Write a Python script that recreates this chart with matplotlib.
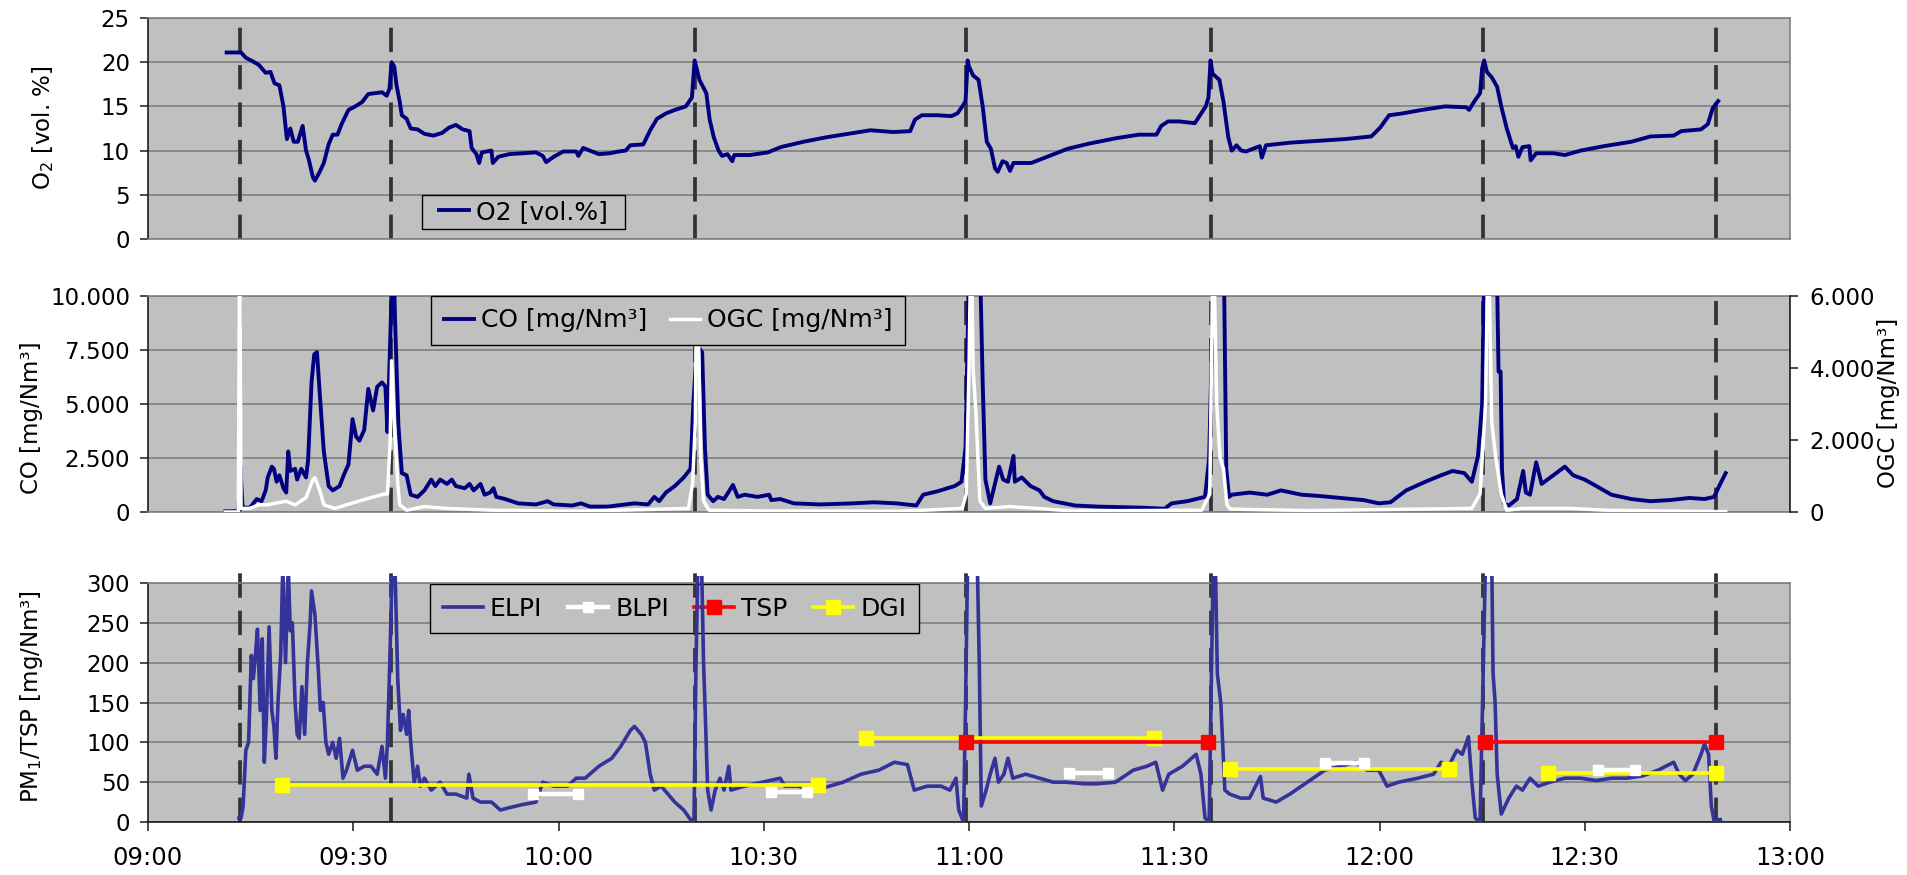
import matplotlib
matplotlib.use('Agg')
import matplotlib.pyplot as plt
from matplotlib.path import Path
from matplotlib.patches import Rectangle
from matplotlib.ticker import FuncFormatter
from matplotlib.lines import Line2D

# ---------------- data (time in minutes after 09:00) ----------------
x_tick_minutes = [0, 30, 60, 90, 120, 150, 180, 210, 240]
x_tick_labels = ['09:00', '09:30', '10:00', '10:30', '11:00', '11:30', '12:00', '12:30', '13:00']
batch_change_minutes = [13.4, 35.5, 80.0, 119.6, 155.4, 195.2, 229.2]

o2_ticks = [0, 5, 10, 15, 20, 25]
co_ticks = [0, 2500, 5000, 7500, 10000]
ogc_ticks = [0, 2000, 4000, 6000]
pm_ticks = [0, 50, 100, 150, 200, 250, 300]

o2_data = [
    (11.5, 21.1), (13.6, 21.1), (14.3, 20.5), (15.3, 20.1), (16.2, 19.7), (17.2, 18.8), (17.9, 18.9),
    (18.5, 17.6), (19.2, 17.4), (19.8, 15.0), (20.3, 11.3), (20.8, 12.5), (21.3, 11.0), (21.9, 11.0),
    (22.6, 12.8), (23.1, 10.0), (23.5, 9.0), (24.1, 7.0), (24.4, 6.6), (25.1, 7.6), (25.7, 8.6),
    (26.4, 10.7), (27.0, 11.8), (27.7, 11.8), (28.3, 13.0), (29.3, 14.6), (30.3, 15.0), (31.3, 15.5),
    (32.2, 16.4), (33.2, 16.5), (34.2, 16.6), (34.9, 16.2), (35.3, 17.0), (35.6, 20.0), (36.0, 19.5),
    (36.3, 17.5), (36.8, 15.5), (37.1, 14.0), (37.8, 13.6), (38.4, 12.5), (39.4, 12.4), (40.4, 11.9),
    (41.7, 11.7), (43.0, 12.0), (44.0, 12.6), (45.0, 12.9), (46.0, 12.4), (47.0, 12.2), (47.3, 10.3),
    (48.0, 9.6), (48.4, 8.6), (48.8, 9.8), (50.2, 10.0), (50.4, 8.6), (51.2, 9.3), (52.8, 9.6),
    (54.8, 9.7), (56.7, 9.8), (57.7, 9.4), (58.2, 8.7), (59.3, 9.3), (60.7, 9.9), (62.6, 9.9),
    (62.9, 9.4), (63.6, 10.3), (64.6, 10.0), (65.9, 9.6), (67.5, 9.7), (68.8, 9.9), (69.8, 10.0),
    (70.5, 10.6), (72.4, 10.7), (73.4, 12.3), (74.4, 13.6), (75.7, 14.2), (77.0, 14.6), (78.6, 15.0),
    (79.5, 16.0), (79.9, 20.2), (80.6, 18.0), (81.6, 16.5), (82.1, 13.5), (82.7, 11.5), (83.4, 10.0),
    (83.9, 9.4), (84.7, 9.6), (85.4, 8.8), (85.7, 9.5), (88.0, 9.5), (90.6, 9.8), (92.5, 10.4),
    (95.8, 11.0), (99.1, 11.5), (102.3, 11.9), (105.6, 12.3), (108.9, 12.1), (111.4, 12.2),
    (112.1, 13.5), (113.1, 14.0), (115.4, 14.0), (117.4, 13.9), (118.3, 14.2), (119.2, 15.2),
    (119.5, 15.6), (119.8, 20.2), (120.0, 19.5), (120.6, 18.5), (121.4, 18.0), (122.0, 15.0),
    (122.6, 11.0), (123.2, 10.2), (123.8, 8.0), (124.2, 7.6), (124.9, 8.8), (125.5, 8.6), (126.0, 7.7),
    (126.5, 8.6), (129.1, 8.6), (131.4, 9.3), (134.4, 10.2), (137.6, 10.8), (141.5, 11.4),
    (144.8, 11.8), (147.4, 11.8), (148.1, 12.8), (149.1, 13.3), (150.7, 13.3), (153.0, 13.1),
    (153.6, 13.8), (154.6, 15.0), (155.0, 16.0), (155.3, 20.2), (155.6, 18.7), (156.6, 18.0),
    (157.2, 15.5), (157.9, 11.5), (158.4, 10.0), (159.1, 10.6), (159.8, 10.0), (160.5, 9.9),
    (162.5, 10.5), (162.8, 9.2), (163.4, 10.6), (167.0, 10.9), (170.9, 11.1), (174.9, 11.3),
    (178.8, 11.6), (180.1, 12.6), (181.4, 14.0), (183.3, 14.2), (186.2, 14.6), (189.6, 15.0),
    (192.7, 14.9), (193.1, 14.6), (193.8, 15.5), (194.7, 16.5), (195.0, 19.3), (195.3, 20.2),
    (195.7, 18.9), (196.4, 18.3), (197.2, 17.2), (197.8, 15.0), (198.6, 12.5), (199.5, 10.3),
    (199.9, 10.5), (200.3, 9.3), (200.9, 10.4), (201.9, 10.5), (202.1, 8.9), (202.9, 9.7),
    (205.4, 9.7), (207.1, 9.5), (209.4, 10.0), (212.8, 10.5), (216.8, 11.0), (219.6, 11.6),
    (223.0, 11.7), (224.1, 12.2), (227.0, 12.4), (228.0, 13.0), (228.7, 14.8), (229.5, 15.6),
]

co_data = [
    (11.3, 30), (13.2, 40), (13.5, 2100), (13.8, 300), (14.1, 200), (14.9, 200), (15.9, 600),
    (16.6, 500), (17.2, 1000), (17.5, 1600), (18.1, 2100), (18.4, 2000), (18.8, 1400), (19.2, 1700),
    (19.8, 1100), (20.2, 900), (20.5, 2800), (20.8, 1900), (21.5, 2000), (21.8, 1500), (22.4, 2000),
    (23.1, 1600), (23.4, 2400), (23.9, 6000), (24.3, 7300), (24.7, 7400), (25.1, 5500), (25.7, 2800),
    (26.4, 1200), (27.0, 1000), (28.0, 1200), (28.6, 1700), (29.3, 2200), (29.9, 4300), (30.4, 3500),
    (30.9, 3300), (31.6, 3800), (32.2, 5700), (32.9, 4700), (33.5, 5800), (34.2, 6000), (34.7, 5800),
    (35.0, 3700), (35.5, 9000), (35.8, 13000), (36.1, 9000), (36.6, 4000), (37.1, 1800), (37.8, 1700),
    (38.4, 800), (39.4, 700), (40.4, 1000), (41.4, 1500), (42.0, 1200), (42.7, 1500), (43.7, 1300),
    (44.4, 1500), (45.0, 1200), (46.3, 1100), (47.0, 1300), (47.6, 1000), (48.6, 1300), (49.2, 800),
    (50.0, 900), (50.5, 1100), (50.9, 700), (52.2, 600), (54.1, 400), (56.7, 350), (58.4, 500),
    (59.3, 350), (62.0, 300), (63.3, 400), (64.6, 250), (67.2, 250), (69.8, 350), (71.1, 400),
    (73.1, 350), (74.0, 700), (74.7, 500), (75.7, 900), (77.0, 1200), (78.3, 1600), (79.3, 2000),
    (79.7, 5000), (80.1, 7000), (80.5, 7600), (81.0, 7400), (81.4, 3000), (81.8, 800), (82.6, 500),
    (83.3, 700), (84.2, 600), (85.5, 1250), (86.2, 700), (87.2, 800), (89.1, 700), (90.8, 800),
    (91.1, 550), (92.4, 600), (94.4, 400), (98.3, 350), (102.9, 400), (106.1, 450), (109.4, 400),
    (112.3, 300), (113.3, 800), (115.3, 950), (117.9, 1200), (118.9, 1400), (119.5, 3000),
    (119.8, 8000), (120.1, 13000), (121.5, 13000), (122.0, 6000), (122.4, 1500), (123.1, 400),
    (124.4, 2100), (125.0, 1500), (125.7, 1400), (126.5, 2600), (126.7, 1400), (127.7, 1600),
    (129.0, 1200), (130.3, 1000), (131.0, 700), (132.3, 500), (135.5, 300), (138.8, 250),
    (145.3, 200), (148.6, 150), (149.6, 400), (151.9, 500), (154.5, 700), (155.1, 2500),
    (155.6, 9000), (156.0, 13000), (157.2, 13000), (157.6, 2000), (158.0, 700), (158.4, 800),
    (161.0, 900), (163.6, 800), (165.6, 1000), (168.6, 800), (170.9, 750), (174.3, 650),
    (177.7, 550), (179.9, 400), (181.6, 450), (183.9, 1000), (186.7, 1400), (189.0, 1700),
    (190.7, 1900), (192.4, 1800), (193.5, 1400), (194.4, 2600), (195.0, 5000), (195.4, 13000),
    (197.0, 13000), (197.2, 10500), (197.4, 6500), (197.7, 6500), (197.9, 2000), (198.2, 400),
    (198.9, 300), (200.1, 600), (201.0, 1900), (201.4, 900), (202.0, 800), (202.9, 2300),
    (203.7, 1300), (205.4, 1700), (207.1, 2100), (208.3, 1700), (210.0, 1500), (211.7, 1200),
    (213.9, 800), (216.8, 600), (219.6, 500), (222.4, 550), (225.3, 650), (227.5, 600),
    (228.9, 700), (229.8, 1300), (230.6, 1800),
]

ogc_data = [
    (11.3, 0), (13.2, 0), (13.4, 8000), (13.6, 100), (14.9, 100), (16.2, 200), (17.5, 200),
    (18.8, 250), (20.2, 300), (21.5, 200), (23.1, 400), (24.1, 900), (24.4, 950), (25.1, 600),
    (25.7, 200), (27.3, 100), (29.9, 250), (32.6, 400), (34.5, 500), (35.0, 500), (35.4, 2000),
    (35.6, 4200), (36.0, 2500), (36.5, 800), (36.8, 200), (37.8, 50), (40.4, 150), (43.7, 100),
    (50.2, 50), (63.0, 20), (79.0, 100), (79.6, 800), (80.0, 2500), (80.2, 7000), (80.5, 4500),
    (80.8, 1500), (81.2, 300), (82.0, 50), (90.0, 30), (110.0, 20), (119.0, 100), (119.6, 500),
    (120.0, 4000), (120.3, 8000), (120.6, 4000), (121.0, 2800), (121.3, 1500), (121.6, 300),
    (122.4, 100), (126.0, 150), (130.0, 100), (135.0, 30), (154.0, 50), (155.2, 500), (155.7, 8000),
    (156.2, 3000), (156.7, 1500), (157.2, 1200), (157.7, 200), (158.2, 80), (170.0, 40),
    (193.5, 100), (194.7, 500), (195.5, 3000), (195.9, 8000), (196.4, 2500), (197.0, 1500),
    (197.8, 500), (198.6, 50), (200.9, 100), (208.0, 100), (213.0, 50), (225.0, 20), (230.6, 10),
]

elpi_data = [
    (13.3, 5), (13.6, 5), (13.9, 20), (14.3, 90), (14.7, 100), (15.1, 209), (15.4, 180), (15.7, 210),
    (16.0, 242), (16.4, 140), (16.7, 230), (17.0, 75), (17.3, 130), (17.7, 245), (18.1, 140),
    (18.4, 120), (18.7, 80), (19.0, 150), (19.4, 210), (19.7, 320), (20.1, 200), (20.5, 320),
    (20.8, 240), (21.1, 250), (21.5, 150), (21.8, 110), (22.1, 105), (22.5, 170), (22.9, 110),
    (23.3, 200), (23.7, 250), (23.9, 290), (24.4, 260), (24.9, 190), (25.2, 140), (25.6, 150),
    (26.0, 100), (26.4, 85), (27.0, 100), (27.5, 80), (28.0, 105), (28.5, 55), (29.0, 65),
    (29.9, 90), (30.6, 65), (31.6, 70), (32.6, 70), (33.5, 60), (34.2, 95), (34.7, 55), (35.0, 100),
    (35.4, 220), (35.7, 320), (36.1, 320), (36.5, 180), (36.9, 115), (37.3, 135), (37.8, 110),
    (38.1, 140), (38.4, 100), (38.9, 50), (39.4, 70), (39.8, 45), (40.4, 55), (41.4, 40), (42.7, 50),
    (43.7, 35), (45.0, 35), (46.6, 30), (46.9, 60), (47.5, 30), (48.6, 25), (50.2, 25), (51.5, 15),
    (52.8, 18), (54.8, 22), (56.7, 25), (57.7, 50), (59.3, 45), (61.3, 45), (62.6, 55), (63.9, 55),
    (65.9, 70), (67.8, 80), (69.1, 95), (70.5, 115), (71.1, 120), (72.1, 110), (72.7, 100),
    (73.4, 60), (74.0, 40), (75.0, 45), (76.0, 35), (77.0, 25), (78.3, 15), (79.3, 3), (79.8, 0),
    (80.1, 200), (80.4, 330), (80.9, 330), (81.2, 200), (81.4, 150), (81.8, 40), (82.3, 15),
    (82.9, 40), (83.6, 55), (84.2, 40), (84.9, 70), (85.2, 40), (87.2, 45), (89.8, 50), (92.4, 55),
    (93.1, 45), (95.0, 45), (97.6, 40), (99.6, 45), (101.6, 50), (104.2, 60), (106.8, 65),
    (109.1, 75), (111.0, 72), (112.0, 40), (113.9, 45), (115.9, 45), (117.2, 40), (118.1, 55),
    (118.5, 15), (119.2, 0), (119.5, 150), (119.8, 330), (121.2, 330), (121.5, 200), (121.8, 20),
    (122.5, 40), (123.1, 60), (123.8, 80), (124.3, 50), (125.1, 60), (125.7, 80), (126.4, 55),
    (128.3, 60), (130.3, 55), (132.3, 50), (134.2, 50), (136.8, 48), (138.8, 48), (141.4, 50),
    (144.0, 65), (146.0, 70), (147.3, 75), (148.3, 40), (149.2, 60), (151.2, 70), (153.2, 85),
    (153.9, 60), (154.5, 5), (155.1, 0), (155.7, 330), (156.0, 330), (156.3, 186), (156.8, 150),
    (157.4, 40), (158.1, 35), (159.7, 30), (161.0, 30), (162.6, 57), (163.0, 30), (164.9, 25),
    (166.9, 35), (168.6, 45), (170.3, 55), (172.0, 65), (174.3, 70), (176.5, 75), (178.2, 65),
    (179.9, 65), (181.1, 45), (182.8, 50), (185.6, 55), (187.9, 60), (189.0, 75), (190.1, 70),
    (191.3, 90), (192.1, 85), (193.0, 107), (193.5, 50), (194.0, 5), (194.7, 0), (195.5, 330),
    (196.4, 330), (196.6, 186), (196.9, 150), (197.2, 60), (197.8, 10), (198.9, 30), (200.0, 45),
    (200.9, 40), (202.0, 55), (203.2, 45), (204.9, 50), (207.1, 55), (209.4, 55), (211.7, 52),
    (213.9, 55), (216.2, 55), (218.5, 58), (220.7, 65), (223.0, 75), (223.8, 60), (224.7, 52),
    (225.8, 60), (227.0, 85), (227.5, 98), (228.1, 85), (228.5, 20), (228.9, 2), (229.8, 3),
]

# sampling periods: (start minute, end minute, concentration)
blpi_segments = [(56.3, 62.8, 35), (91.0, 96.3, 38), (134.6, 140.3, 61), (172.0, 177.7, 74), (212.0, 217.3, 65)]
tsp_segments = [(119.6, 154.9, 100), (195.4, 229.2, 100)]
dgi_segments = [(19.6, 98.0, 47), (104.9, 147.0, 106), (158.1, 190.1, 67), (204.7, 229.2, 62)]

# ---------------- styling ----------------
W, H = 1907, 875
BG = '#c0c0c0'
GRID = '#808080'
DARK = '#1a1a1a'
NAVY = '#000080'
ELPI_C = '#333399'
TICK_FS = 16.5
LEG_FS = 18

plt.rcParams['font.family'] = ['DejaVu Sans']
fig = plt.figure(figsize=(W / 100, H / 100), dpi=100)
L, R = 148, 1790


def axes_px(top, bottom):
    return fig.add_axes([L / W, 1 - bottom / H, (R - L) / W, (bottom - top) / H])


ax1 = axes_px(18, 239)
ax2 = axes_px(296, 512)
ax3 = axes_px(583, 822)

dot_fmt = FuncFormatter(lambda v, p: f'{int(round(v)):,}'.replace(',', '.'))

for ax in (ax1, ax2, ax3):
    ax.set_facecolor(BG)
    ax.set_xlim(0, 240)
    ax.set_axisbelow(True)
    ax.grid(axis='y', color=GRID, lw=1.2)
    for s in ax.spines.values():
        s.set_color(GRID)
        s.set_linewidth(1.2)
    ax.spines['left'].set_color(DARK)
    ax.tick_params(axis='y', direction='out', length=6, width=1.1, colors=DARK,
                   labelcolor='black', labelsize=TICK_FS, pad=7)

for ax in (ax1, ax2):
    ax.tick_params(axis='x', bottom=False, labelbottom=False)

# ---- panel 1: O2 ----
ax1.set_ylim(0, 25)
ax1.set_yticks(o2_ticks)
ax1.plot([p[0] for p in o2_data], [p[1] for p in o2_data], color=NAVY, lw=2.8, zorder=3,
         label='O2 [vol.%]')

# ---- panel 2: CO / OGC ----
ax2.set_ylim(0, 10000)
ax2.set_yticks(co_ticks)
ax2.yaxis.set_major_formatter(dot_fmt)
ax2.spines['right'].set_visible(False)
co_line, = ax2.plot([p[0] for p in co_data], [p[1] for p in co_data], color=NAVY, lw=2.8, zorder=3,
                    label='CO [mg/Nm³]')
ax2b = ax2.twinx()
ax2b.set_ylim(0, 6000)
ax2b.set_yticks(ogc_ticks)
ax2b.yaxis.set_major_formatter(dot_fmt)
for k in ('left', 'top', 'bottom'):
    ax2b.spines[k].set_visible(False)
ax2b.spines['right'].set_color(DARK)
ax2b.spines['right'].set_linewidth(1.2)
ax2b.tick_params(axis='y', direction='out', length=6, width=1.1, colors=DARK,
                 labelcolor='black', labelsize=TICK_FS, pad=8)
ogc_line, = ax2b.plot([p[0] for p in ogc_data], [p[1] for p in ogc_data], color='white', lw=2.5,
                      zorder=3, label='OGC [mg/Nm³]')

# ---- panel 3: particles ----
ax3.set_ylim(0, 300)
ax3.set_yticks(pm_ticks)
ax3.set_xticks(x_tick_minutes)
ax3.set_xticklabels(x_tick_labels)
ax3.spines['bottom'].set_color(DARK)
ax3.tick_params(axis='x', direction='out', length=6.5, width=1.1, colors=DARK,
                labelcolor='black', labelsize=17.5, pad=11)

elpi_line, = ax3.plot([p[0] for p in elpi_data], [p[1] for p in elpi_data], color=ELPI_C, lw=2.6,
                      zorder=3, label='ELPI')
clip = Rectangle((0, 0), 1, 1.03, transform=ax3.transAxes, facecolor='none', edgecolor='none')
elpi_line.set_clip_path(clip)

for t0, t1, v in dgi_segments:
    ax3.plot([t0, t1], [v, v], color='#ffff00', lw=2.6, marker='s', ms=9.5, zorder=4)
for t0, t1, v in blpi_segments:
    ax3.plot([t0, t1], [v, v], color='white', lw=3.2, marker='s', ms=7, zorder=5)
for t0, t1, v in tsp_segments:
    ax3.plot([t0, t1], [v, v], color='#ff0000', lw=2.6, marker='s', ms=9.5, zorder=6)

# ---- batch-change markers ----
for ax, top in ((ax1, 0.96), (ax2, 0.977), (ax3, 1.04)):
    for t in batch_change_minutes:
        ax.axvline(t, ymin=0, ymax=top, color='#333333', lw=2.7, dashes=(6.5, 3.47),
                   zorder=2, clip_on=False)


# ---- legends ----
def widened_box(dx):
    def box(x0, y0, width, height, mutation_size):
        x0 = x0 - dx
        width = width + 2 * dx
        return Path([(x0, y0), (x0 + width, y0), (x0 + width, y0 + height), (x0, y0 + height), (x0, y0)],
                    [Path.MOVETO, Path.LINETO, Path.LINETO, Path.LINETO, Path.CLOSEPOLY])
    return box


def style_legend(leg):
    fr = leg.get_frame()
    fr.set_facecolor(BG)
    fr.set_edgecolor('black')
    fr.set_linewidth(1.0)
    fr.set_alpha(1)


leg1 = ax1.legend(loc='upper left', bbox_to_anchor=((434 - L) / (R - L), (239 - 195) / 221),
                  borderaxespad=0, fontsize=LEG_FS, borderpad=0.2, handlelength=1.2,
                  handletextpad=0.3, fancybox=False, framealpha=1)
style_legend(leg1)
leg1.get_frame().set_boxstyle(widened_box(12))

leg2 = ax2b.legend(handles=[co_line, ogc_line], loc='upper left',
                   bbox_to_anchor=((431 - L) / (R - L), 1.0), borderaxespad=0, ncol=2,
                   fontsize=LEG_FS, borderpad=0.5, handlelength=1.2, handletextpad=0.3,
                   columnspacing=0.9, fancybox=False, framealpha=1)
style_legend(leg2)
leg2.set_zorder(10)

h_elpi = Line2D([], [], color=ELPI_C, lw=2.6)
h_blpi = Line2D([], [], color='white', lw=3.2, marker='s', ms=7)
h_tsp = Line2D([], [], color='#ff0000', lw=2.6, marker='s', ms=9.5)
h_dgi = Line2D([], [], color='#ffff00', lw=2.6, marker='s', ms=9.5)
leg3 = ax3.legend(handles=[h_elpi, h_blpi, h_tsp, h_dgi], labels=['ELPI', 'BLPI', 'TSP', 'DGI'],
                  loc='upper left', bbox_to_anchor=((430 - L) / (R - L), (822 - 584) / 239),
                  borderaxespad=0, ncol=4, fontsize=LEG_FS, borderpad=0.5, handlelength=1.6,
                  handletextpad=0.3, columnspacing=1.0, numpoints=1, fancybox=False, framealpha=1)
style_legend(leg3)
leg3.set_zorder(1)

# ---- axis titles ----
fig.text(43 / W, 1 - 128 / H, r'O$_2$ [vol. %]', rotation=90, ha='center', va='center', fontsize=16.5)
fig.text(32 / W, 1 - 418 / H, 'CO [mg/Nm³]', rotation=90, ha='center', va='center', fontsize=16.5)
fig.text(32 / W, 1 - 697 / H, r'PM$_1$/TSP [mg/Nm³]', rotation=90, ha='center', va='center', fontsize=16.5)
fig.text(1889 / W, 1 - 403 / H, 'OGC [mg/Nm³]', rotation=90, ha='center', va='center', fontsize=16.5)

fig.savefig('out.png', dpi=100)
